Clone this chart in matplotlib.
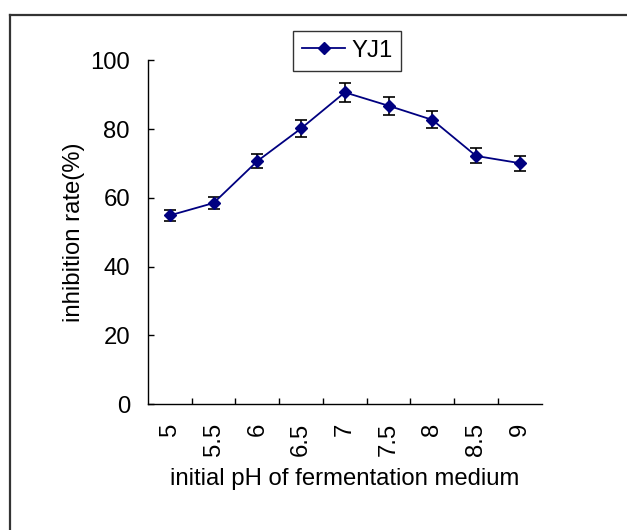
import matplotlib
matplotlib.use("Agg")
import matplotlib.pyplot as plt
from matplotlib.lines import Line2D

plt.rcParams['font.family'] = ['Liberation Sans', 'DejaVu Sans']

ph_labels = ["5", "5.5", "6", "6.5", "7", "7.5", "8", "8.5", "9"]
inhibition = [54.9, 58.5, 70.7, 80.2, 90.7, 86.8, 82.7, 72.2, 70.1]
errors = [1.7, 1.8, 2.1, 2.4, 2.7, 2.6, 2.5, 2.2, 2.2]
y_ticks = [0, 20, 40, 60, 80, 100]

FS = 17.2
NAVY = '#000080'

fig = plt.figure(figsize=(6.27, 5.30), dpi=100)
ax = fig.add_axes([0.236, 0.2377, 0.628, 0.6483])

xpos = list(range(len(ph_labels)))
ax.errorbar(xpos, inhibition, yerr=errors, color=NAVY, lw=1.3,
            marker='D', markersize=6.2, markerfacecolor=NAVY,
            markeredgecolor=NAVY, ecolor='black', elinewidth=1.2,
            capsize=4.2, capthick=1.2, zorder=3)

ax.set_xlim(-0.5, len(ph_labels) - 0.5)
ax.set_ylim(0, 100)
ax.set_yticks(y_ticks)
ax.set_yticklabels([str(v) for v in y_ticks], fontsize=FS)
ax.set_xticks(xpos)
ax.set_xticklabels(ph_labels, rotation=90, fontsize=FS, va='top')
ax.tick_params(axis='x', length=0, pad=13.5)
ax.tick_params(axis='y', length=4.5, width=1, direction='in', pad=13)

# category boundary ticks drawn inward on the x axis
ax.set_xticks([i + 0.5 for i in xpos[:-1]], minor=True)
ax.tick_params(axis='x', which='minor', length=4.5, width=1, direction='in')

for s in ['top', 'right']:
    ax.spines[s].set_visible(False)
for s in ['left', 'bottom']:
    ax.spines[s].set_linewidth(1.0)
    ax.spines[s].set_color('black')

ax.set_ylabel('inhibition rate(%)', fontsize=FS, labelpad=4)
ax.set_xlabel('initial pH of fermentation medium', fontsize=FS, labelpad=8.5)

handle = Line2D([], [], color=NAVY, lw=1.3, marker='D', markersize=6.2,
                markerfacecolor=NAVY, markeredgecolor=NAVY)
leg = ax.legend([handle], ['YJ1'], loc='center', bbox_to_anchor=(0.506, 1.0285),
                fontsize=FS, frameon=True, fancybox=False, edgecolor='black',
                handlelength=1.8, handletextpad=0.25, borderpad=0.38,
                borderaxespad=0)
leg.get_frame().set_linewidth(1.0)

# outer chart frame (left and top edges)
fig.add_artist(Line2D([10 / 627, 10 / 627], [0, 1 - 15 / 530],
                      transform=fig.transFigure, color='#333333', lw=1.6))
fig.add_artist(Line2D([10 / 627, 1], [1 - 15 / 530, 1 - 15 / 530],
                      transform=fig.transFigure, color='#333333', lw=1.6))

fig.savefig('out.png', dpi=100)
